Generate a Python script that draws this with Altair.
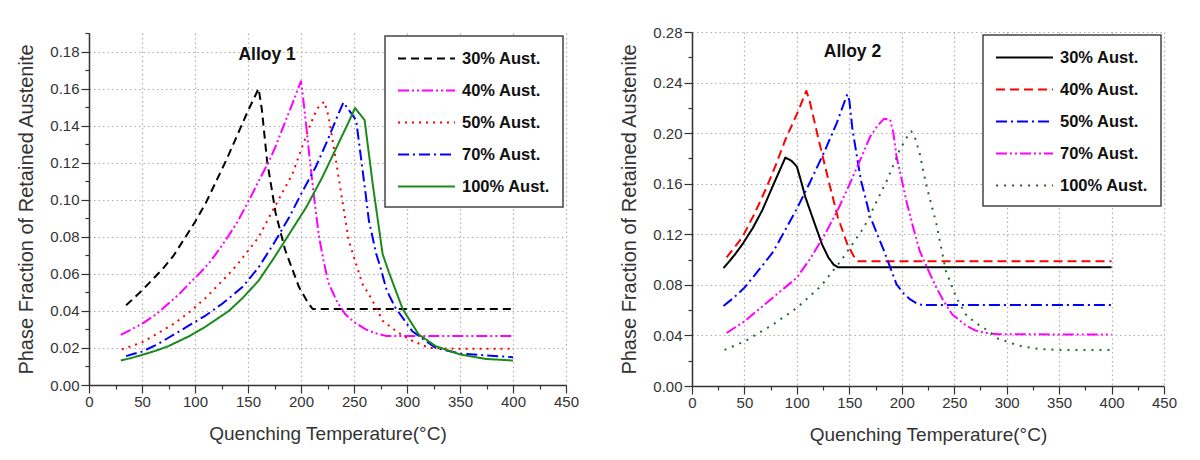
import altair as alt
import pandas as pd

series_names = ["30% Aust.", "40% Aust.", "50% Aust.", "70% Aust.", "100% Aust."]

# ---------------- Alloy 1 ----------------
a1_30_t = [35, 50, 60, 70, 80, 90, 100, 110, 120, 130, 140, 150, 155, 160, 163, 168, 176, 185, 198, 206, 211, 250, 300, 350, 400]
a1_30_v = [0.043, 0.051, 0.057, 0.063, 0.070, 0.079, 0.088, 0.098, 0.110, 0.122, 0.135, 0.148, 0.154, 0.160, 0.149, 0.121, 0.093, 0.073, 0.053, 0.045, 0.041, 0.041, 0.041, 0.041, 0.041]

a1_40_t = [30, 40, 50, 63, 75, 85, 95, 104, 115, 125, 131, 140, 151, 160, 170, 176, 185, 192, 200, 203, 209, 213, 217, 222, 226, 234, 242, 250, 261, 270, 280, 300, 350, 400]
a1_40_v = [0.027, 0.030, 0.033, 0.038, 0.044, 0.049, 0.055, 0.060, 0.067, 0.075, 0.080, 0.088, 0.0997, 0.110, 0.121, 0.1287, 0.142, 0.152, 0.164, 0.150, 0.118, 0.098, 0.080, 0.065, 0.055, 0.045, 0.038, 0.034, 0.030, 0.028, 0.0265, 0.0265, 0.0265, 0.0265]

a1_50_t = [31, 40, 50, 63, 80, 94, 110, 126, 140, 160, 175, 192, 208, 215, 222, 226, 233, 245, 258, 264, 271, 277, 290, 302, 321, 350, 400]
a1_50_v = [0.0192, 0.021, 0.023, 0.0273, 0.033, 0.039, 0.047, 0.0563, 0.065, 0.0798, 0.096, 0.114, 0.1395, 0.149, 0.153, 0.145, 0.121, 0.078, 0.0545, 0.049, 0.0418, 0.0346, 0.029, 0.0246, 0.020, 0.0195, 0.0195]

a1_70_t = [35, 40, 50, 63, 75, 94, 110, 126, 145, 160, 175, 189, 200, 214, 225, 235, 240, 252, 261, 264, 271, 274, 281, 289, 305, 327, 350, 400]
a1_70_v = [0.0156, 0.0165, 0.018, 0.0215, 0.0255, 0.0320, 0.0375, 0.0440, 0.053, 0.0635, 0.077, 0.0907, 0.103, 0.1178, 0.132, 0.146, 0.1525, 0.143, 0.103, 0.0889, 0.0707, 0.0653, 0.0509, 0.0418, 0.029, 0.020, 0.017, 0.015]

a1_100_t = [30, 40, 50, 63, 75, 94, 110, 132, 145, 160, 175, 189, 205, 220, 235, 245, 251, 260, 268, 271, 277, 283, 296, 311, 327, 350, 374, 400]
a1_100_v = [0.0132, 0.0146, 0.0162, 0.0185, 0.0210, 0.0262, 0.0315, 0.0400, 0.047, 0.0563, 0.069, 0.0816, 0.096, 0.112, 0.130, 0.142, 0.1495, 0.143, 0.107, 0.095, 0.0707, 0.0607, 0.0409, 0.0273, 0.021, 0.0165, 0.0141, 0.0132]

# ---------------- Alloy 2 ----------------
a2_30_t = [30, 40, 48, 58, 67, 78, 89, 95, 100, 104, 108, 117, 124, 130, 135, 139, 150, 200, 300, 400]
a2_30_v = [0.0932, 0.103, 0.112, 0.125, 0.139, 0.160, 0.1807, 0.178, 0.1735, 0.162, 0.1496, 0.1283, 0.112, 0.1017, 0.096, 0.094, 0.094, 0.094, 0.094, 0.094]

a2_40_t = [33, 48, 60, 70, 80, 89, 100, 109, 112, 120, 130, 139, 148, 154, 158, 200, 300, 400]
a2_40_v = [0.1017, 0.1177, 0.137, 0.155, 0.175, 0.1948, 0.215, 0.2334, 0.226, 0.1974, 0.163, 0.1336, 0.1123, 0.103, 0.0987, 0.0987, 0.0987, 0.0987]

a2_50_t = [30, 40, 50, 63, 77, 88, 100, 113, 127, 138, 148, 150, 153, 161, 170, 183, 195, 202, 208, 215, 220, 300, 400]
a2_50_v = [0.0632, 0.070, 0.0778, 0.091, 0.1057, 0.122, 0.1403, 0.162, 0.1868, 0.208, 0.2307, 0.226, 0.2028, 0.1629, 0.1336, 0.107, 0.0804, 0.073, 0.0685, 0.065, 0.064, 0.064, 0.064]

a2_70_t = [33, 50, 73, 100, 113, 127, 140, 152, 162, 170, 177, 183, 189, 192, 195, 200, 205, 211, 217, 225, 233, 240, 248, 261, 270, 280, 292, 350, 400]
a2_70_v = [0.0419, 0.0511, 0.0671, 0.0857, 0.101, 0.1203, 0.141, 0.1629, 0.182, 0.1974, 0.206, 0.2113, 0.2107, 0.200, 0.1815, 0.163, 0.1443, 0.125, 0.107, 0.092, 0.0778, 0.067, 0.0568, 0.048, 0.044, 0.042, 0.041, 0.0408, 0.0408]

a2_100_t = [31, 50, 77, 100, 123, 142, 164, 186, 198, 205, 209, 212, 217, 223, 233, 242, 252, 261, 270, 277, 292, 302, 311, 330, 350, 400]
a2_100_v = [0.0286, 0.0352, 0.0485, 0.0618, 0.0791, 0.099, 0.1256, 0.1629, 0.1868, 0.197, 0.2014, 0.198, 0.1842, 0.1602, 0.1283, 0.0911, 0.070, 0.0566, 0.050, 0.0467, 0.0373, 0.0347, 0.032, 0.0293, 0.0285, 0.0285]

alloy1 = [(a1_30_t, a1_30_v), (a1_40_t, a1_40_v), (a1_50_t, a1_50_v), (a1_70_t, a1_70_v), (a1_100_t, a1_100_v)]
alloy2 = [(a2_30_t, a2_30_v), (a2_40_t, a2_40_v), (a2_50_t, a2_50_v), (a2_70_t, a2_70_v), (a2_100_t, a2_100_v)]

a1_colors = ["#000000", "#ff00ff", "#ff0000", "#0000ff", "#1a8a1a"]
a1_dashes = [[8, 5], [11, 3, 2, 3, 2, 3], [2, 5], [11, 4, 2, 4], [1, 0]]
a2_colors = ["#000000", "#ff0000", "#0000ff", "#ff00ff", "#1e6b2a"]
a2_dashes = [[1, 0], [9, 5], [11, 4, 2, 4], [11, 3, 2, 3, 2, 3], [2, 6]]

x_vals = list(range(0, 451, 25))
y1_vals = [round(i * 0.01, 2) for i in range(0, 20)]
y2_vals = [round(i * 0.02, 2) for i in range(0, 15)]

FONT = "Liberation Sans"
GRID = "#b0b0b0"


def make_df(alloy):
    rows = []
    for name, (ts, vs) in zip(series_names, alloy):
        for i, (t, v) in enumerate(zip(ts, vs)):
            rows.append({"series": name, "T": t, "v": v, "ord": i})
    return pd.DataFrame(rows)


def legend():
    return alt.Legend(
        title=None, orient="top-right", offset=3, padding=12, rowPadding=13,
        fillColor="white", strokeColor="#444444",
        symbolType="M-1,0H5", symbolSize=361, symbolStrokeWidth=2,
        labelOffset=44, labelFontSize=16.5, labelFontWeight="bold",
        labelFont=FONT, labelColor="#111111", labelLimit=200,
    )


def panel(alloy, colors, dashes, ydom, yvals, ymajor_expr, title, title_t, title_v, w, h):
    df = make_df(alloy)
    xmaj = "datum.value % 50 == 0"
    xaxis = alt.Axis(
        values=x_vals, title="Quenching Temperature(°C)",
        labelExpr=f"{xmaj} ? datum.label : ''",
        tickSize={"condition": {"test": xmaj, "value": 8}, "value": 4},
        gridColor={"condition": {"test": xmaj, "value": GRID}, "value": "transparent"},
        labelFlush=False, labelOverlap=False, labelPadding=1, titlePadding=15,
        titleFontSize=19,
    )
    yaxis = alt.Axis(
        values=yvals, format=".2f", title="Phase Fraction of Retained Austenite",
        labelExpr=f"{ymajor_expr} ? datum.label : ''",
        tickSize={"condition": {"test": ymajor_expr, "value": 8}, "value": 4},
        gridColor={"condition": {"test": ymajor_expr, "value": GRID}, "value": "transparent"},
        labelFlush=False, labelOverlap=False, labelPadding=2, titlePadding=13,
        titleFontSize=20,
    )
    x = alt.X("T:Q", scale=alt.Scale(domain=[0, 450], nice=False), axis=xaxis)
    y = alt.Y("v:Q", scale=alt.Scale(domain=ydom, nice=False), axis=yaxis)
    lines = alt.Chart(df).mark_line(strokeWidth=2, clip=True, strokeJoin="round").encode(
        x=x, y=y,
        color=alt.Color("series:N", scale=alt.Scale(domain=series_names, range=colors), legend=legend()),
        strokeDash=alt.StrokeDash("series:N", scale=alt.Scale(domain=series_names, range=dashes), legend=legend()),
        order="ord:Q",
    )
    tdf = pd.DataFrame({"T": [title_t], "v": [title_v], "label": [title]})
    txt = alt.Chart(tdf).mark_text(fontSize=17.5, fontWeight="bold", font=FONT, color="#111111",
                                   baseline="middle").encode(
        x=x, y=y, text="label:N"
    )
    return alt.layer(lines, txt).properties(width=w, height=h)


left = panel(alloy1, a1_colors, a1_dashes, [0, 0.19], y1_vals,
             "round(datum.value*100) % 2 == 0", "Alloy 1", 168, 0.178, 477, 352)
right = panel(alloy2, a2_colors, a2_dashes, [0, 0.28], y2_vals,
              "round(datum.value*100) % 4 == 0", "Alloy 2", 153, 0.264, 472, 354)

chart = alt.hconcat(left, right, spacing=40, center=True).resolve_scale(
    color="independent", strokeDash="independent"
).resolve_legend(color="independent", strokeDash="independent").properties(
    padding={"left": 8, "top": 17, "right": 5, "bottom": 5}
).configure_view(stroke=None).configure_axis(
    grid=True, gridDash=[1.5, 3], gridWidth=1.2,
    domainColor="#333333", domainWidth=1.5, tickColor="#333333", tickWidth=1.2,
    labelFont=FONT, labelFontSize=15, labelColor="#333333",
    titleFont=FONT, titleFontWeight="normal", titleColor="#333333",
).configure_legend(strokeWidth=1.5)

chart.save("out.html", embed_options={"renderer": "svg", "actions": False})
